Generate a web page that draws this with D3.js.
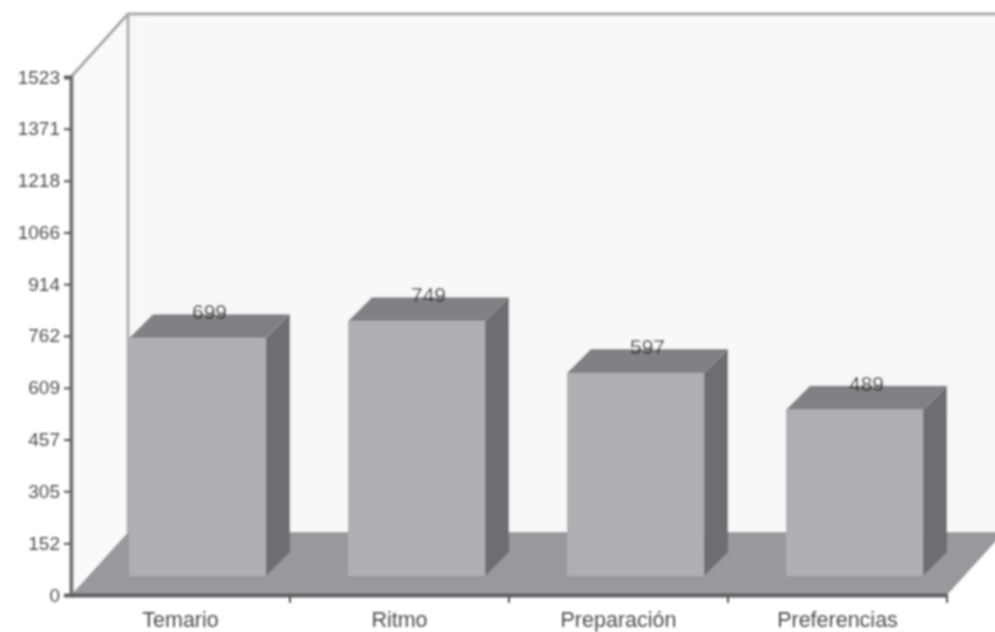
<!DOCTYPE html>
<html>
<head>
<meta charset="utf-8">
<script src="https://cdn.jsdelivr.net/npm/d3@7"></script>
<style>
  html, body { margin: 0; padding: 0; background: #fff; overflow: hidden; }
  text { font-family: "Liberation Sans", Arial, sans-serif; }
</style>
</head>
<body>
<div id="figure"></div>
<script>
const categories = ["Temario", "Ritmo", "Preparación", "Preferencias"];
const values = [699, 749, 597, 489];
const tickLabels = [0, 152, 305, 457, 609, 762, 914, 1066, 1218, 1371, 1523];

const width = 995, height = 632;
const margin = {top: 77, right: 48, bottom: 37, left: 71};
const plotLeft = margin.left, plotRight = width - margin.right;
const plotTop = margin.top, plotBottom = height - margin.bottom;
// depth of the box, and of the bars standing in it
const depthX = 57, depthY = 63;
const barNearX = 17, barNearY = 19, barDepthX = 24, barDepthY = 24;

const svg = d3.select("#figure").append("svg")
  .attr("width", width)
  .attr("height", height);

// the reference is a soft scan, so take the edges off everything a little
svg.append("filter").attr("id", "soft")
  .attr("x", "-5%").attr("y", "-5%").attr("width", "110%").attr("height", "110%")
  .append("feGaussianBlur").attr("stdDeviation", 0.9);

const g = svg.append("g").attr("filter", "url(#soft)");

const x = d3.scaleBand().domain(categories).range([plotLeft, plotRight])
  .paddingInner(0.374).paddingOuter(0.187);
const labelX = d3.scaleBand().domain(categories).range([plotLeft, plotRight]);
const y = d3.scaleLinear().domain([0, 1523]).range([plotBottom, plotTop]);

const poly = pts => pts.map(p => p.join(",")).join(" ");

// back wall
g.append("polygon")
  .attr("points", poly([[plotLeft + depthX, y(1523) - depthY], [width + 20, y(1523) - depthY],
    [width + 20, y(0) - depthY], [plotLeft + depthX, y(0) - depthY]]))
  .attr("fill", "#f8f8f8");
// side wall
g.append("polygon")
  .attr("points", poly([[plotLeft, y(1523)], [plotLeft + depthX, y(1523) - depthY],
    [plotLeft + depthX, y(0) - depthY], [plotLeft, y(0)]]))
  .attr("fill", "#fafafa");
// floor
g.append("polygon")
  .attr("points", poly([[plotLeft, y(0)], [plotLeft + depthX, y(0) - depthY],
    [plotRight + depthX, y(0) - depthY], [plotRight, y(0)]]))
  .attr("fill", "#98999d");

// wall edges
g.append("polyline")
  .attr("points", poly([[plotLeft, y(1523)], [plotLeft + depthX, y(1523) - depthY], [width + 20, y(1523) - depthY]]))
  .attr("fill", "none").attr("stroke", "#a8a8a8").attr("stroke-width", 3);
g.append("line")
  .attr("x1", plotLeft + depthX).attr("x2", plotLeft + depthX)
  .attr("y1", y(1523) - depthY).attr("y2", y(0) - depthY)
  .attr("stroke", "#aeaeb0").attr("stroke-width", 3);
g.append("line")
  .attr("x1", plotLeft + depthX + 14).attr("x2", plotLeft + depthX + 14)
  .attr("y1", y(1523) - depthY + 2).attr("y2", y(0) - depthY)
  .attr("stroke", "#fdfdfd").attr("stroke-width", 1);

// bars
const bars = g.selectAll("g.bar")
  .data(categories.map((c, i) => ({ c, v: values[i] })))
  .join("g").attr("class", "bar");

const barBase = y(0) - barNearY;
const barTop = d => barBase - (y(0) - y(d.v));

bars.append("polygon") // right side
  .attr("points", d => {
    const xr = x(d.c) + barNearX + x.bandwidth();
    return poly([[xr, barTop(d)], [xr + barDepthX, barTop(d) - barDepthY],
      [xr + barDepthX, barBase - barDepthY], [xr, barBase]]);
  })
  .attr("fill", "#6d6e72");
bars.append("polygon") // top
  .attr("points", d => {
    const xl = x(d.c) + barNearX, xr = xl + x.bandwidth();
    return poly([[xl, barTop(d)], [xl + barDepthX, barTop(d) - barDepthY],
      [xr + barDepthX, barTop(d) - barDepthY], [xr, barTop(d)]]);
  })
  .attr("fill", "#808185");
bars.append("rect") // front
  .attr("x", d => x(d.c) + barNearX)
  .attr("y", barTop)
  .attr("width", x.bandwidth())
  .attr("height", d => y(0) - y(d.v))
  .attr("fill", "#aeafb3");

// value labels
bars.append("text")
  .attr("x", d => x(d.c) + barNearX + x.bandwidth() / 2 + 12)
  .attr("y", d => barTop(d) - 19)
  .attr("text-anchor", "middle")
  .attr("font-size", 21)
  .attr("fill", "#2e2e2e")
  .text(d => d.v);

// axes
const yAxis = g.append("g")
  .attr("transform", `translate(${plotLeft},0)`)
  .call(d3.axisLeft(y).tickValues(tickLabels).tickFormat(d3.format("d")).tickSize(7).tickPadding(4));
yAxis.select(".domain").attr("stroke", "#6f7074").attr("stroke-width", 4);
yAxis.selectAll(".tick line").attr("stroke", "#555").attr("stroke-width", 2);
yAxis.selectAll("text").attr("font-size", 19).attr("fill", "#4d4d4d")
  .attr("font-family", '"Liberation Sans", Arial, sans-serif');

const xAxis = g.append("g")
  .attr("transform", `translate(0,${plotBottom})`)
  .call(d3.axisBottom(labelX).tickSize(0).tickPadding(17));
xAxis.select(".domain").attr("stroke", "#5f6064").attr("stroke-width", 4);
xAxis.selectAll("text").attr("font-size", 21.5).attr("fill", "#4d4d4d")
  .attr("font-family", '"Liberation Sans", Arial, sans-serif');

// ticks between the categories
g.selectAll("line.sep")
  .data(categories)
  .join("line").attr("class", "sep")
  .attr("x1", d => labelX(d) + labelX.bandwidth())
  .attr("x2", d => labelX(d) + labelX.bandwidth())
  .attr("y1", plotBottom)
  .attr("y2", plotBottom + 8)
  .attr("stroke", "#555").attr("stroke-width", 2);
</script>
</body>
</html>
